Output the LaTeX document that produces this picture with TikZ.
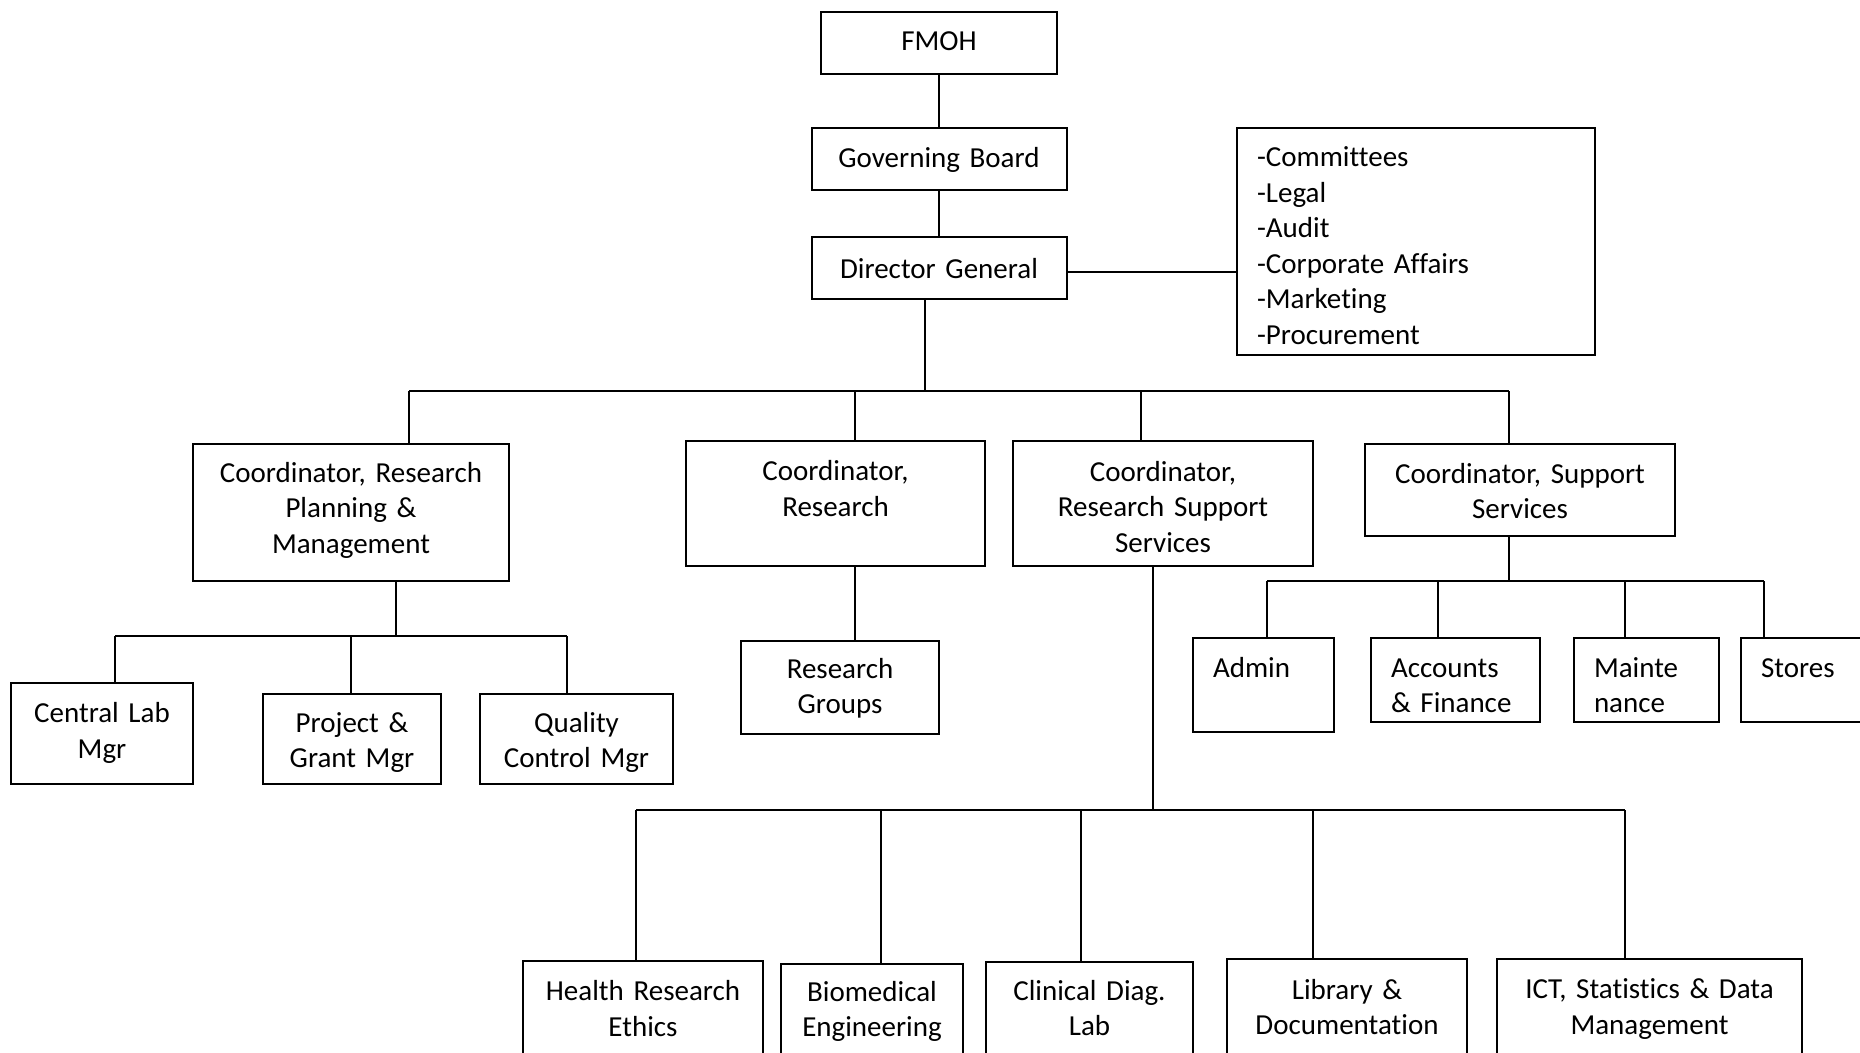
\documentclass[tikz,border=0pt]{standalone}
\usepackage{fontspec}
\setmainfont{Carlito}[Ligatures=CommonOff]
\begin{document}
\begin{tikzpicture}[x=1pt,y=-1pt,
  box/.style={draw, line width=2pt, inner sep=0pt, align=center,
    font=\fontsize{29}{35.6}\selectfont},
  lbox/.style={box, align=left},
  up/.style={text height=0pt, text depth=#1pt},
  dn/.style={text height=#1pt, text depth=0pt},
  wire/.style={line width=2pt}]
\useasboundingbox (0,0) rectangle (1860,1052);
% top chain
\node[box, minimum width=236, minimum height=62, text width=236, dn=15] (FM) at (939,43) {FMOH};
\node[box, minimum width=255, minimum height=62, text width=255, dn=16] (GB) at (939,159) {Governing Board};
\node[box, minimum width=255, minimum height=62, text width=255, dn=20] (DG) at (939,268) {Director General};
\node[lbox, minimum width=358, minimum height=227, text width=318, up=150] (L) at (1416,241.5)
  {-Committees\\-Legal\\-Audit\\-Corporate Affairs\\-Marketing\\-Procurement};
% coordinators
\node[box, minimum width=316, minimum height=137, text width=316, up=61] (C1) at (351,512.5) {Coordinator, Research\\Planning \&\\Management};
\node[box, minimum width=299, minimum height=125, text width=299, up=46] (C2) at (835.5,503.5) {Coordinator,\\Research};
\node[box, minimum width=300, minimum height=125, text width=300, up=45] (C3) at (1163,503.5) {Coordinator,\\Research Support\\Services};
\node[box, minimum width=310, minimum height=92, text width=310, up=14] (C4) at (1520,490) {Coordinator, Support\\Services};
% under C1
\node[box, minimum width=182, minimum height=101, text width=182, up=21.6] (CL) at (102,733.5) {Central Lab\\Mgr};
\node[box, minimum width=178, minimum height=90, text width=178, up=14] (PG) at (352,739) {Project \&\\Grant Mgr};
\node[box, minimum width=193, minimum height=90, text width=193, up=14] (QC) at (576.5,739) {Quality\\Control Mgr};
% under C2
\node[box, minimum width=198, minimum height=93, text width=198, up=19] (RG) at (840,687.5) {Research\\Groups};
% under C4
\node[lbox, minimum width=141, minimum height=94, text width=101, up=16] (AD) at (1263.5,685) {Admin};
\node[lbox, minimum width=169, minimum height=84, text width=129, up=6] (AF) at (1455.5,680) {Accounts\\\& Finance};
\node[lbox, minimum width=145, minimum height=84, text width=105, up=6] (MN) at (1646.5,680) {Mainte\\nance};
\node[lbox, minimum width=145, minimum height=84, text width=105, up=6] (ST) at (1813.5,680) {Stores};
% under C3
\node[box, anchor=north, minimum width=240, minimum height=104, text width=240, up=25] (HR) at (643,960) {Health Research\\Ethics};
\node[box, anchor=north, minimum width=182, minimum height=104, text width=182, up=30] (BM) at (872,963) {Biomedical\\Engineering};
\node[box, anchor=north, minimum width=207, minimum height=104, text width=207, up=28] (CD) at (1089.5,961) {Clinical Diag.\\Lab};
\node[box, anchor=north, minimum width=240, minimum height=104, text width=240, up=24] (LD) at (1347,958) {Library \&\\Documentation};
\node[box, anchor=north, minimum width=305, minimum height=104, text width=305, up=25] (IC) at (1649.5,958) {ICT, Statistics \& Data\\Management};
% connectors: top chain
\draw[wire] (FM) -- (GB);
\draw[wire] (GB) -- (DG);
\coordinate (h0) at (1150,272);
\draw[wire] (DG.east |- h0) -- (L.west |- h0);
% level 1 bus
\coordinate (j0) at (925,391);
\coordinate (k1) at (409,391);
\coordinate (k2) at (855,391);
\coordinate (k3) at (1141,391);
\coordinate (k4) at (1509,391);
\draw[wire] (DG.south -| j0) -- (j0);
\draw[wire] (k1) -- (k4);
\draw[wire] (k1) -- (k1 |- C1.north);
\draw[wire] (k2) -- (k2 |- C2.north);
\draw[wire] (k3) -- (k3 |- C3.north);
\draw[wire] (k4) -- (k4 |- C4.north);
% C1 bus
\coordinate (m0) at (396,636);
\coordinate (m1) at (115,636);
\coordinate (m2) at (351,636);
\coordinate (m3) at (567,636);
\draw[wire] (C1.south -| m0) -- (m0);
\draw[wire] (m1) -- (m3);
\draw[wire] (m1) -- (m1 |- CL.north);
\draw[wire] (m2) -- (m2 |- PG.north);
\draw[wire] (m3) -- (m3 |- QC.north);
% C2
\draw[wire] (C2.south -| k2) -- (RG.north -| k2);
% C4 bus
\coordinate (s0) at (1509,581);
\coordinate (s1) at (1267,581);
\coordinate (s2) at (1438,581);
\coordinate (s3) at (1625,581);
\coordinate (s4) at (1764,581);
\draw[wire] (C4.south -| s0) -- (s0);
\draw[wire] (s1) -- (s4);
\draw[wire] (s1) -- (s1 |- AD.north);
\draw[wire] (s2) -- (s2 |- AF.north);
\draw[wire] (s3) -- (s3 |- MN.north);
\draw[wire] (s4) -- (s4 |- ST.north);
% C3 bus
\coordinate (t0) at (1153,810);
\coordinate (t1) at (636,810);
\coordinate (t2) at (881,810);
\coordinate (t3) at (1081,810);
\coordinate (t4) at (1313,810);
\coordinate (t5) at (1625,810);
\draw[wire] (C3.south -| t0) -- (t0);
\draw[wire] (t1) -- (t5);
\draw[wire] (t1) -- (t1 |- HR.north);
\draw[wire] (t2) -- (t2 |- BM.north);
\draw[wire] (t3) -- (t3 |- CD.north);
\draw[wire] (t4) -- (t4 |- LD.north);
\draw[wire] (t5) -- (t5 |- IC.north);
\end{tikzpicture}
\end{document}
